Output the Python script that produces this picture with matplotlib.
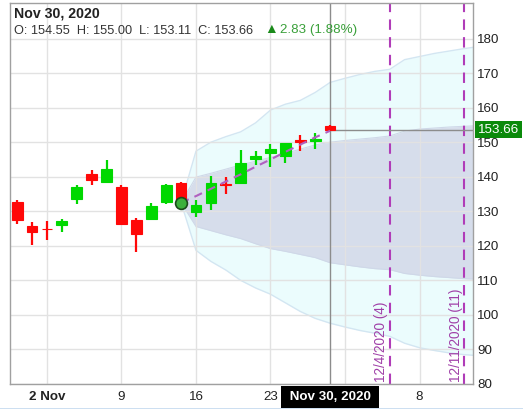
import matplotlib
matplotlib.use('Agg')
import matplotlib.pyplot as plt
import numpy as np
from matplotlib import transforms
from matplotlib.lines import Line2D

plt.rcParams['font.family'] = ['Liberation Sans', 'DejaVu Sans']

# ---------------- data ----------------
dates = ['Oct 29', 'Oct 30', 'Nov 2', 'Nov 3', 'Nov 4', 'Nov 5', 'Nov 6',
         'Nov 9', 'Nov 10', 'Nov 11', 'Nov 12', 'Nov 13',
         'Nov 16', 'Nov 17', 'Nov 18', 'Nov 19', 'Nov 20',
         'Nov 23', 'Nov 24', 'Nov 25', 'Nov 27', 'Nov 30']
opens = [132.65, 125.6, 125.0, 126.1, 133.6, 140.8, 138.6, 137.1, 127.6, 127.8, 132.8,
         138.3, 129.8, 132.4, 138.0, 138.3, 145.1, 146.8, 146.1, 150.5, 150.3, 154.55]
highs = [133.3, 126.8, 127.1, 127.8, 137.6, 142.0, 144.8, 137.6, 128.2, 132.5, 137.9,
         138.5, 133.3, 140.2, 139.9, 147.7, 147.4, 149.5, 149.9, 152.2, 152.8, 155.00]
lows = [126.4, 120.3, 121.8, 124.0, 132.2, 137.6, 138.4, 126.1, 118.1, 127.5, 132.2,
        132.5, 128.3, 130.4, 135.0, 138.1, 143.4, 142.7, 143.9, 147.4, 148.1, 153.11]
closes = [127.55, 124.0, 124.8, 127.3, 136.9, 139.1, 142.2, 126.3, 123.5, 131.4, 137.6,
          132.8, 131.9, 138.3, 137.7, 144.1, 146.1, 148.0, 149.9, 150.2, 150.83, 153.66]

future_dates = ['Dec 1', 'Dec 2', 'Dec 3', 'Dec 4', 'Dec 7', 'Dec 8', 'Dec 9',
                'Dec 10', 'Dec 11', 'Dec 14']

cone_dates = ['Nov 13', 'Nov 16', 'Nov 17', 'Nov 18', 'Nov 19', 'Nov 20', 'Nov 23',
              'Nov 24', 'Nov 25', 'Nov 27', 'Nov 30', 'Dec 1', 'Dec 2', 'Dec 3',
              'Dec 4', 'Dec 7', 'Dec 8', 'Dec 9', 'Dec 10', 'Dec 11', 'Dec 14']
outer_top = [132.5, 147.4, 150.0, 151.6, 153.0, 155.6, 159.3, 161.0, 162.1, 164.4, 167.3,
             168.5, 169.6, 170.5, 171.1, 173.9, 174.8, 175.7, 176.4, 177.1, 177.7]
inner_top = [132.5, 139.9, 141.0, 142.2, 143.4, 144.5, 145.6, 146.7, 148.0, 149.2, 150.0,
             150.5, 150.9, 151.3, 151.8, 153.2, 153.8, 154.1, 154.4, 154.6, 154.8]
inner_bot = [132.5, 125.6, 124.4, 123.2, 122.1, 120.6, 119.2, 118.4, 117.5, 116.6, 115.1,
             114.5, 113.9, 113.4, 113.1, 112.0, 111.5, 111.1, 110.8, 110.5, 110.3]
outer_bot = [132.5, 118.7, 115.5, 113.0, 110.0, 107.8, 106.0, 103.5, 101.0, 99.0, 97.6,
             96.5, 95.5, 94.7, 93.8, 91.8, 90.5, 89.7, 89.0, 88.5, 88.2]

forecast_dates = ['Nov 13', 'Nov 16', 'Nov 17', 'Nov 18', 'Nov 19', 'Nov 20', 'Nov 23',
                  'Nov 24', 'Nov 25', 'Nov 27', 'Nov 30']
forecast_vals = [132.5, 134.4, 136.5, 138.6, 140.7, 142.9, 145.0, 147.2, 149.3, 151.4, 153.3]

event_dates = ['Dec 4', 'Dec 11']
event_labels = ['12/4/2020 (4)', '12/11/2020 (11)']

tick_dates = ['Nov 2', 'Nov 9', 'Nov 16', 'Nov 23', 'Dec 1', 'Dec 8']
tick_labels = ['2 Nov', '9', '16', '23', '', '8']
y_ticks = [80, 90, 100, 110, 120, 130, 140, 150, 160, 170, 180]

current_date = 'Nov 30'
current_label = 'Nov 30, 2020'
last_price = 153.66
change = 2.83
change_pct = 1.88

# ---------------- layout ----------------
W, H = 523, 409
fig = plt.figure(figsize=(W / 100, H / 100), dpi=100)
L, R, B, T = 10, 473, 384, 3
ax = fig.add_axes([L / W, (H - B) / H, (R - L) / W, (B - T) / H])

all_days = dates + future_dates
pos = {d: i for i, d in enumerate(all_days)}
xc = np.array([pos[d] for d in dates])

ax.set_xlim(-0.48, 30.59)
ax.set_ylim(80, 190.3)

# grid
for v in y_ticks:
    ax.axhline(v, color='#e2e2e2', lw=1, zorder=0.5)
for d in tick_dates:
    ax.axvline(pos[d], color='#e2e2e2', lw=1, zorder=0.5)

# cone
cx = [pos[d] for d in cone_dates]
ax.fill_between(cx, outer_bot, outer_top, color='#ebfcfd', lw=0, zorder=0.2)
ax.plot(cx, outer_top, color='#d3e6f2', lw=1, zorder=0.3)
ax.plot(cx, outer_bot, color='#d3e6f2', lw=1, zorder=0.3)
ax.fill_between(cx, inner_bot, inner_top, color='#d6ddeb', lw=0, zorder=0.25)
ax.plot(cx, inner_top, color='#cfd8e8', lw=0.8, zorder=0.3)
ax.plot(cx, inner_bot, color='#cfd8e8', lw=0.8, zorder=0.3)

# event lines
for d, lab in zip(event_dates, event_labels):
    ax.axvline(pos[d], color='#b03cb8', lw=1.5, ls=(0, (5, 3.5)), zorder=2)
    tr = transforms.offset_copy(ax.transData, fig=fig, x=-1.5, y=2, units='dots')
    ax.text(pos[d], 80, lab, rotation=90, ha='right', va='bottom', color='#a040a8',
            fontsize=9.8, transform=tr, zorder=2)

# crosshair
ax.axvline(pos[current_date], color='#8c8c8c', lw=1, zorder=2.5)
x0, x1 = ax.get_xlim()
ax.axhline(last_price, xmin=(pos[current_date] - x0) / (x1 - x0), xmax=1,
           color='#8c8c8c', lw=1, zorder=2.5)

# candles
green, red = '#00d800', '#ff0808'
for x, o, h, l, c in zip(xc, opens, highs, lows, closes):
    col = green if c >= o else red
    ax.vlines(x, l, h, color=col, lw=1.6, zorder=3)
    ax.bar(x, abs(c - o), bottom=min(o, c), width=0.72, color=col,
           edgecolor=col, lw=0.8, zorder=3.2)

# forecast line
fx = [pos[d] for d in forecast_dates]
ax.plot(fx, forecast_vals, color='#b060c0', lw=1.5, ls=(0, (4, 3)), zorder=3.5)
ax.plot(fx[0], forecast_vals[0], 'o', ms=8.5, mfc='#3cb03c', mec='#1a4a1a', mew=1.2, zorder=4)

# axes styling
for s in ax.spines.values():
    s.set_color('#a0a0a0')
    s.set_linewidth(1)
ax.yaxis.tick_right()
ax.set_yticks(y_ticks)
ax.set_yticklabels([str(v) for v in y_ticks])
ax.tick_params(axis='y', length=0, pad=3, labelsize=9.6, labelcolor='#222222')
ax.set_xticks([pos[d] for d in tick_dates])
ax.set_xticklabels(tick_labels)
ax.tick_params(axis='x', length=0, pad=5, labelsize=9.6, labelcolor='#222222')
ax.get_xticklabels()[0].set_fontweight('bold')

# last price label
trl = transforms.offset_copy(transforms.blended_transform_factory(ax.transAxes, ax.transData),
                             fig=fig, x=5, y=0, units='dots')
ax.text(1.0, last_price, f'{last_price:.2f}', transform=trl, ha='left', va='center',
        color='white', fontsize=9.6, zorder=6, clip_on=False,
        bbox=dict(boxstyle='square,pad=0.2', fc='#0a8a0a', ec='none'))

# current date label on x axis
trb = transforms.blended_transform_factory(ax.transData, ax.transAxes)
ax.text(pos[current_date], -0.034, ' ' + current_label + ' ', transform=trb, ha='center', va='center',
        color='white', fontsize=9.6, fontweight='bold', clip_on=False, zorder=6,
        bbox=dict(boxstyle='square,pad=0.35', fc='black', ec='none'))

# header
fig.text(14 / W, 1 - 17.5 / H, current_label, fontsize=10.2, fontweight='bold', color='#222222')
fig.text(14 / W, 1 - 33.5 / H, f'O: {opens[-1]:.2f}  H: {highs[-1]:.2f}  L: {lows[-1]:.2f}  C: {closes[-1]:.2f}',
         fontsize=9.2, color='#333333')
fig.text(264 / W, 1 - 33.0 / H, '\u25b2', fontsize=10, color='#1a8a1a')
fig.text(280 / W, 1 - 33.5 / H, f'{change:.2f} ({change_pct:.2f}%)', fontsize=9.6, color='#3aa03a')

# bottom border line
fig.add_artist(Line2D([0, 1], [0.5 / H, 0.5 / H], transform=fig.transFigure, color='#c8dcf0', lw=2))

fig.savefig('out.png', dpi=100)
